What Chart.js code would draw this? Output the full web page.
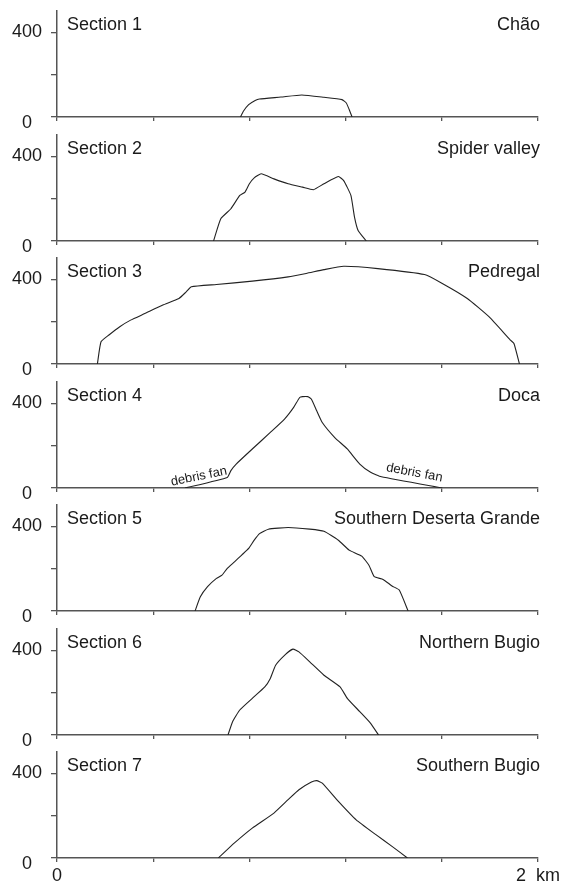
<!DOCTYPE html>
<html>
<head>
<meta charset="utf-8">
<script src="https://cdn.jsdelivr.net/npm/chart.js@4.4.1/dist/chart.umd.min.js"></script>
<style>
  html, body { margin: 0; padding: 0; background: #fff; }
  #wrap { position: relative; width: 564px; height: 886px; overflow: hidden; }
  #wrap canvas { position: absolute; left: 0; }
</style>
</head>
<body>
<div id="wrap"></div>
<script>
// panel labels
const sectionNames = ['Section 1', 'Section 2', 'Section 3', 'Section 4', 'Section 5', 'Section 6', 'Section 7'];
const placeNames = ['Chão', 'Spider valley', 'Pedregal', 'Doca', 'Southern Deserta Grande', 'Northern Bugio', 'Southern Bugio'];

// distance along the section (km) and elevation (m)
const s1Km = [0.763, 0.775, 0.797, 0.824, 0.842, 0.931, 1.018, 1.110, 1.185, 1.203, 1.215, 1.227];
const s1Elev = [0, 27, 58, 78, 85, 94, 104, 93, 82, 66, 35, 0];

const s2Km = [0.651, 0.681, 0.723, 0.760, 0.782, 0.800, 0.820, 0.849, 0.902, 0.961, 1.021, 1.066, 1.110, 1.170, 1.192, 1.222, 1.237, 1.252, 1.286];
const s2Elev = [0, 105, 152, 215, 231, 270, 298, 317, 293, 270, 254, 242, 270, 304, 285, 215, 113, 50, 0];

const s3Km = [0.168, 0.183, 0.216, 0.261, 0.306, 0.365, 0.440, 0.507, 0.537, 0.559, 0.663, 0.812, 0.961, 1.036, 1.110, 1.192, 1.334, 1.528, 1.602, 1.706, 1.796, 1.885, 1.900, 1.923];
const s3Elev = [0, 105, 137, 176, 207, 238, 278, 309, 340, 364, 375, 391, 411, 427, 445, 461, 450, 422, 380, 309, 223, 113, 97, 0];

const s4Km = [0.532, 0.708, 0.723, 0.745, 0.812, 0.887, 0.946, 0.984, 1.009, 1.021, 1.043, 1.058, 1.080, 1.103, 1.155, 1.207, 1.259, 1.304, 1.349, 1.602];
const s4Elev = [0, 50, 82, 113, 184, 262, 325, 380, 427, 431, 431, 419, 364, 309, 238, 184, 113, 74, 53, 0];

const s5Km = [0.574, 0.596, 0.626, 0.663, 0.686, 0.708, 0.738, 0.768, 0.797, 0.820, 0.842, 0.879, 0.961, 1.051, 1.110, 1.170, 1.215, 1.267, 1.297, 1.319, 1.356, 1.393, 1.423, 1.460];
const s5Elev = [0, 67, 115, 154, 169, 201, 232, 264, 295, 334, 365, 386, 394, 386, 376, 334, 287, 259, 216, 162, 149, 118, 99, 0];

const s6Km = [0.711, 0.730, 0.760, 0.812, 0.864, 0.887, 0.909, 0.946, 0.981, 1.006, 1.051, 1.110, 1.177, 1.207, 1.259, 1.304, 1.337];
const s6Elev = [0, 63, 118, 173, 227, 267, 329, 376, 405, 392, 345, 282, 227, 173, 110, 55, 0];

const s7Km = [0.671, 0.738, 0.812, 0.902, 0.961, 1.006, 1.058, 1.080, 1.103, 1.170, 1.244, 1.326, 1.393, 1.457];
const s7Elev = [0, 71, 141, 212, 275, 322, 358, 365, 353, 267, 180, 110, 55, 0];

// tick labels
const yTickValues = [0, 400];
const yTickLabels = ['0', '400'];
const xTickValues = [0, 2];
const xTickLabels = ['0', '2  km'];

// "debris fan" notes on section 4
const fanText = ['debris fan', 'debris fan'];
const fanKm = [0.59, 1.486];
const fanElev = [54, 72];
const fanAngle = [-11.5, 10.5];

const sectionKm = [s1Km, s2Km, s3Km, s4Km, s5Km, s6Km, s7Km];
const sectionElev = [s1Elev, s2Elev, s3Elev, s4Elev, s5Elev, s6Elev, s7Elev];

const FONT = '"Liberation Sans", Arial, sans-serif';
const TEXT = '#1a1a1a';
const AXIS = '#555';
Chart.defaults.font.family = FONT;

// canvases overlap a little so the "0" labels are not cut off
const panelTops = [0, 124, 247, 371, 494, 618, 741];
const panelHeight = 145;

// writes the section name / place name and notes inside each panel
const panelText = {
  id: 'panelText',
  afterDraw(chart, args, opts) {
    const { ctx, chartArea, scales } = chart;
    const y = scales.y.getPixelForValue(410);
    ctx.save();
    ctx.fillStyle = TEXT;
    ctx.font = '18px ' + FONT;
    ctx.textBaseline = 'alphabetic';
    ctx.textAlign = 'left';
    ctx.fillText(opts.left, chartArea.left + 10, y);
    ctx.textAlign = 'right';
    ctx.fillText(opts.right, chartArea.right + 2, y);
    if (opts.notes) {
      ctx.font = '13px ' + FONT;
      ctx.textAlign = 'center';
      ctx.textBaseline = 'middle';
      opts.notes.forEach(n => {
        ctx.save();
        ctx.translate(scales.x.getPixelForValue(n.x), scales.y.getPixelForValue(n.y));
        ctx.rotate(n.angle * Math.PI / 180);
        ctx.fillText(n.text, 0, 0);
        ctx.restore();
      });
    }
    ctx.restore();
  }
};

const wrap = document.getElementById('wrap');

sectionKm.forEach((km, i) => {
  const last = i === sectionKm.length - 1;
  const canvas = document.createElement('canvas');
  canvas.width = 564;
  canvas.height = panelHeight;
  canvas.style.top = panelTops[i] + 'px';
  wrap.appendChild(canvas);

  const notes = i === 3 ? fanText.map((t, j) => ({ text: t, x: fanKm[j], y: fanElev[j], angle: fanAngle[j] })) : null;

  new Chart(canvas.getContext('2d'), {
    type: 'line',
    data: {
      datasets: [{
        data: km.map((x, j) => ({ x: x, y: sectionElev[i][j] })),
        borderColor: '#222',
        borderWidth: 1.1,
        pointRadius: 0,
        tension: 0.15,
        fill: false
      }]
    },
    options: {
      responsive: false,
      animation: false,
      layout: { padding: { top: 11, right: 26, bottom: 0, left: 0 } },
      plugins: {
        legend: { display: false },
        tooltip: { enabled: false },
        panelText: { left: sectionNames[i], right: placeNames[i], notes: notes }
      },
      scales: {
        x: {
          type: 'linear',
          min: 0,
          max: 2,
          ticks: {
            stepSize: 0.4,
            autoSkip: false,
            maxRotation: 0,
            padding: 3,
            color: TEXT,
            font: { size: 18 },
            callback: v => {
              if (!last) return '';
              const k = xTickValues.findIndex(t => Math.abs(t - v) < 1e-6);
              return k >= 0 ? xTickLabels[k] : '';
            }
          },
          grid: { drawOnChartArea: false, tickLength: 4, color: AXIS, lineWidth: 1.3 },
          border: { color: AXIS, width: 1.5 },
          afterFit: s => { s.height = panelHeight - 11 - 106; s.paddingLeft = 0; s.paddingRight = 0; }
        },
        y: {
          min: 0,
          max: 500,
          ticks: {
            stepSize: 200,
            includeBounds: false,
            padding: 9,
            color: TEXT,
            font: c => ({ size: 18, lineHeight: c.tick && c.tick.value === 0 ? 0.67 : 1.2 }),
            callback: v => {
              const k = yTickValues.indexOf(v);
              if (k < 0) return '';
              return v === 0 ? ['', yTickLabels[k] + '  '] : yTickLabels[k];
            }
          },
          grid: { drawOnChartArea: false, tickLength: 6, color: AXIS, lineWidth: 1.3 },
          border: { color: AXIS, width: 1.5 },
          afterFit: s => { s.width = 57; s.paddingTop = 0; s.paddingBottom = 0; }
        }
      }
    },
    plugins: [panelText]
  });
});
</script>
</body>
</html>
